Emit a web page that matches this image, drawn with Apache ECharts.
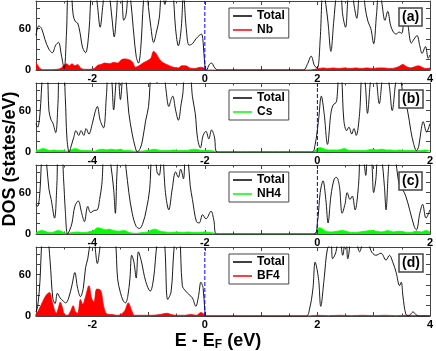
<!DOCTYPE html>
<html><head><meta charset="utf-8">
<script src="https://cdn.jsdelivr.net/npm/echarts@6/dist/echarts.min.js"></script>
<style>html,body{margin:0;padding:0;background:#fff}#c{width:436px;height:351px}</style>
</head><body><div id="c"></div>
<script>
// ---------- DATA ----------
const panelTags = ['(a)', '(b)', '(c)', '(d)'];
const partialNames = ['Nb', 'Cs', 'NH4', 'BF4'];
const xRanges = [[-3, 4], [-5, 2], [-5, 2], [-3, 4]];
const yLabelValues = [0, 60];
const fermiLine = [[0, 0], [0, 100]];

const totalA = [[-3.00,50],[-2.95,64],[-2.90,60],[-2.84,44],[-2.77,30],[-2.71,25],[-2.65,36],[-2.60,40],[-2.55,22],[-2.50,2],[-2.46,50],[-2.42,125],[-2.38,120],[-2.34,80],[-2.30,70],[-2.26,68],[-2.22,55],[-2.17,32],[-2.12,25],[-2.06,55],[-2.01,120],[-1.96,125],[-1.91,95],[-1.86,62],[-1.81,95],[-1.76,125],[-1.70,110],[-1.65,75],[-1.61,48],[-1.57,80],[-1.53,125],[-1.48,110],[-1.44,72],[-1.40,80],[-1.35,120],[-1.31,95],[-1.26,50],[-1.22,20],[-1.18,10],[-1.14,30],[-1.09,100],[-1.05,125],[-1.00,90],[-0.96,63],[-0.91,40],[-0.86,55],[-0.81,75],[-0.76,125],[-0.71,95],[-0.67,110],[-0.62,125],[-0.57,115],[-0.52,60],[-0.47,35],[-0.42,60],[-0.38,110],[-0.33,60],[-0.28,36],[-0.22,38],[-0.16,45],[-0.10,50],[-0.06,52],[-0.03,40],[0.00,7],[0.03,0],[0.08,8],[0.12,10],[0.17,4],[0.23,0],[1.75,0],[1.82,8],[1.89,20],[1.95,6],[2.00,3],[2.05,45],[2.10,120],[2.15,95],[2.19,68],[2.24,27],[2.29,70],[2.34,110],[2.40,125],[2.45,80],[2.50,62],[2.55,110],[2.60,125],[2.65,95],[2.70,75],[2.75,115],[2.80,125],[2.85,90],[2.90,70],[2.95,60],[3.00,38],[3.05,80],[3.10,125],[3.15,95],[3.20,72],[3.25,85],[3.30,65],[3.35,55],[3.40,52],[3.45,55],[3.50,53],[3.55,85],[3.60,70],[3.67,39],[3.72,45],[3.77,50],[3.82,35],[3.86,24],[3.92,34],[3.97,17],[4.00,22]];
const partialA = [[-3.00,11],[-2.97,7],[-2.93,2],[-2.88,0.5],[-2.75,0.5],[-2.62,1],[-2.55,3],[-2.50,7],[-2.45,9],[-2.41,6],[-2.36,9],[-2.31,6],[-2.26,8],[-2.21,3],[-2.14,1],[-2.05,1],[-1.97,2],[-1.90,7],[-1.84,8],[-1.78,10],[-1.70,9],[-1.62,11],[-1.55,10],[-1.48,15],[-1.41,16],[-1.35,15],[-1.29,12],[-1.23,4],[-1.17,6],[-1.10,10],[-1.03,13],[-0.96,17],[-0.91,27],[-0.86,23],[-0.80,15],[-0.73,10],[-0.65,7],[-0.56,4],[-0.47,3],[-0.41,6],[-0.34,6],[-0.27,3],[-0.18,2],[-0.08,4],[-0.02,3],[0.02,0],[1.85,0],[1.95,1],[2.03,2],[2.10,3],[2.18,2],[2.28,3],[2.38,2],[2.48,3],[2.58,2],[2.68,3],[2.78,2],[2.88,3],[2.98,2],[3.08,3],[3.18,3],[3.28,2],[3.38,3],[3.45,5],[3.52,8],[3.58,5],[3.66,3],[3.74,5],[3.80,6],[3.86,4],[3.93,2],[4.00,3]];

const totalB = [[-5.00,41],[-4.97,36],[-4.93,55],[-4.88,115],[-4.84,125],[-4.80,118],[-4.77,60],[-4.73,46],[-4.70,42],[-4.65,28],[-4.61,70],[-4.58,125],[-4.52,125],[-4.48,80],[-4.45,20],[-4.41,0],[-4.37,10],[-4.33,21],[-4.29,31],[-4.24,24],[-4.20,31],[-4.15,24],[-4.11,34],[-4.06,26],[-4.00,41],[-3.95,58],[-3.91,66],[-3.86,46],[-3.80,35],[-3.75,80],[-3.71,125],[-3.66,110],[-3.62,61],[-3.58,100],[-3.55,125],[-3.50,76],[-3.46,110],[-3.43,125],[-3.39,95],[-3.35,56],[-3.29,26],[-3.24,8],[-3.20,0],[-3.15,5],[-3.11,16],[-3.05,46],[-3.00,66],[-2.95,120],[-2.90,125],[-2.85,100],[-2.80,110],[-2.74,125],[-2.69,90],[-2.64,66],[-2.60,76],[-2.57,81],[-2.52,61],[-2.47,46],[-2.42,70],[-2.39,85],[-2.35,125],[-2.28,125],[-2.22,80],[-2.17,56],[-2.13,20],[-2.08,6],[-2.03,24],[-1.98,30],[-1.93,19],[-1.88,32],[-1.83,22],[-1.78,0],[-0.10,0],[-0.04,11],[0.02,46],[0.07,81],[0.12,56],[0.18,11],[0.24,56],[0.28,68],[0.34,73],[0.39,125],[0.43,110],[0.47,46],[0.52,31],[0.56,36],[0.61,26],[0.65,34],[0.69,24],[0.75,56],[0.80,125],[0.85,100],[0.89,56],[0.94,100],[0.98,125],[1.04,110],[1.10,70],[1.16,110],[1.22,125],[1.28,95],[1.33,60],[1.39,100],[1.45,125],[1.50,95],[1.54,76],[1.60,61],[1.66,31],[1.71,12],[1.76,2],[1.80,8],[1.84,30],[1.88,44],[1.94,29],[2.00,41]];
const partialB = [[-5.00,3],[-4.95,3],[-4.88,5],[-4.82,4],[-4.75,2],[-4.68,3],[-4.60,2],[-4.52,2],[-4.45,1],[-4.38,3],[-4.30,5],[-4.23,3],[-4.15,2],[-4.05,2],[-3.97,1],[-3.90,3],[-3.82,4],[-3.74,3],[-3.66,4],[-3.58,3],[-3.50,4],[-3.42,2],[-3.34,2],[-3.25,1],[-3.15,1],[-3.05,2],[-2.97,3],[-2.90,4],[-2.83,3],[-2.75,2],[-2.65,2],[-2.55,3],[-2.47,2],[-2.37,2],[-2.27,3],[-2.18,4],[-2.10,3],[-2.00,2],[-1.90,2],[-1.82,1],[-1.76,0],[-0.10,0],[-0.04,2],[0.02,6],[0.07,6],[0.13,4],[0.20,3],[0.28,3],[0.36,3],[0.43,4],[0.48,5],[0.54,3],[0.62,2],[0.72,2],[0.82,2],[0.90,3],[0.98,4],[1.06,3],[1.14,4],[1.22,3],[1.30,3],[1.38,2],[1.46,3],[1.56,2],[1.66,2],[1.76,2],[1.84,2],[1.92,3],[2.00,2]];

const totalC = [[-5.00,43],[-4.97,40],[-4.93,62],[-4.89,120],[-4.85,125],[-4.81,100],[-4.77,65],[-4.73,50],[-4.67,23],[-4.63,70],[-4.60,125],[-4.55,125],[-4.51,80],[-4.48,35],[-4.44,0],[-4.40,6],[-4.36,16],[-4.31,40],[-4.25,48],[-4.19,31],[-4.14,18],[-4.08,40],[-4.03,31],[-3.97,34],[-3.91,35],[-3.87,50],[-3.83,72],[-3.78,125],[-3.72,125],[-3.67,100],[-3.62,65],[-3.59,30],[-3.56,90],[-3.52,125],[-3.45,125],[-3.40,95],[-3.35,60],[-3.29,30],[-3.22,11],[-3.16,8],[-3.10,16],[-3.04,35],[-2.98,65],[-2.94,120],[-2.89,125],[-2.85,90],[-2.81,85],[-2.76,125],[-2.70,60],[-2.64,35],[-2.58,65],[-2.52,90],[-2.47,82],[-2.43,94],[-2.38,80],[-2.34,125],[-2.30,110],[-2.26,70],[-2.22,50],[-2.15,18],[-2.10,16],[-2.04,28],[-1.98,22],[-1.89,33],[-1.84,20],[-1.79,0],[-0.06,0],[0.00,16],[0.05,60],[0.10,77],[0.15,50],[0.19,16],[0.24,55],[0.30,80],[0.34,82],[0.39,70],[0.44,30],[0.49,43],[0.53,60],[0.58,50],[0.62,55],[0.67,35],[0.73,70],[0.77,125],[0.82,110],[0.86,85],[0.90,125],[0.96,110],[1.00,60],[1.04,80],[1.08,125],[1.14,110],[1.19,70],[1.22,35],[1.26,90],[1.30,125],[1.36,125],[1.41,95],[1.46,70],[1.51,65],[1.57,55],[1.64,35],[1.72,11],[1.76,6],[1.82,30],[1.87,43],[1.93,23],[2.00,35]];
const partialC = [[-5.00,2],[-4.95,4],[-4.90,5],[-4.84,4],[-4.76,2],[-4.68,3],[-4.61,5],[-4.55,4],[-4.46,1],[-4.36,2],[-4.27,3],[-4.17,2],[-4.07,3],[-3.98,5],[-3.90,9],[-3.84,8],[-3.77,6],[-3.70,7],[-3.62,5],[-3.52,4],[-3.44,5],[-3.34,2],[-3.22,1],[-3.12,2],[-3.02,3],[-2.94,6],[-2.88,7],[-2.80,4],[-2.70,3],[-2.60,2],[-2.50,3],[-2.40,2],[-2.30,3],[-2.20,2],[-2.10,2],[-2.00,3],[-1.90,2],[-1.82,1],[-1.77,0],[-0.08,0],[-0.02,3],[0.03,9],[0.08,8],[0.15,4],[0.25,3],[0.35,4],[0.45,5],[0.55,3],[0.65,2],[0.75,3],[0.85,4],[0.95,5],[1.05,4],[1.15,3],[1.25,5],[1.35,3],[1.45,4],[1.55,3],[1.65,2],[1.75,4],[1.85,3],[1.93,5],[2.00,3]];

const totalD = [[-3.00,6],[-2.97,14],[-2.93,50],[-2.89,115],[-2.85,125],[-2.80,120],[-2.75,80],[-2.70,25],[-2.66,18],[-2.62,33],[-2.57,26],[-2.52,22],[-2.47,19],[-2.42,26],[-2.36,45],[-2.31,63],[-2.26,40],[-2.21,28],[-2.16,40],[-2.12,70],[-2.08,83],[-2.03,110],[-1.98,125],[-1.94,92],[-1.91,76],[-1.87,95],[-1.83,120],[-1.75,125],[-1.65,125],[-1.59,110],[-1.55,54],[-1.50,34],[-1.45,22],[-1.41,19],[-1.37,28],[-1.33,55],[-1.30,88],[-1.26,78],[-1.22,55],[-1.18,93],[-1.13,80],[-1.05,50],[-0.97,36],[-0.91,55],[-0.85,105],[-0.79,125],[-0.72,110],[-0.66,24],[-0.60,35],[-0.55,95],[-0.50,125],[-0.45,120],[-0.40,44],[-0.34,36],[-0.28,31],[-0.22,26],[-0.16,14],[-0.11,30],[-0.07,49],[-0.03,40],[0.00,8],[0.03,0],[1.80,0],[1.86,10],[1.92,39],[1.96,78],[2.02,54],[2.06,14],[2.12,54],[2.18,98],[2.24,103],[2.27,83],[2.33,93],[2.39,125],[2.45,88],[2.51,125],[2.54,83],[2.63,125],[2.69,110],[2.75,93],[2.81,110],[2.86,125],[2.95,95],[3.04,88],[3.13,91],[3.22,81],[3.28,88],[3.34,78],[3.40,63],[3.46,44],[3.49,49],[3.52,29],[3.57,3],[3.62,0],[3.66,3],[3.70,6],[3.75,2],[3.80,0],[4.00,0]];
const partialD = [[-3.01,1],[-2.95,9],[-2.88,21],[-2.82,30],[-2.76,34],[-2.71,20],[-2.68,11],[-2.64,4],[-2.60,12],[-2.57,20],[-2.53,12],[-2.50,3],[-2.44,1],[-2.38,8],[-2.34,15],[-2.30,6],[-2.26,4],[-2.21,24],[-2.17,17],[-2.12,28],[-2.06,44],[-2.01,25],[-1.97,20],[-1.92,39],[-1.85,37],[-1.80,15],[-1.74,3],[-1.65,2],[-1.55,1],[-1.48,3],[-1.42,8],[-1.36,19],[-1.30,8],[-1.25,1],[-1.10,1],[-0.95,1],[-0.80,2],[-0.67,4],[-0.60,2],[-0.50,1],[-0.35,1],[-0.25,2],[-0.15,1],[-0.07,5],[-0.02,3],[0.02,0],[1.80,0],[1.90,0.5],[2.00,1],[2.20,0.5],[2.40,1],[2.60,0.5],[2.80,1],[3.00,0.5],[3.20,1],[3.40,0.5],[3.60,1],[3.80,0.5],[4.00,0.5]];

const totals = [totalA, totalB, totalC, totalD];
const partials = [partialA, partialB, partialC, partialD];
const partialColors = ['#ff0000', '#00ff00', '#00ff00', '#ff0000'];

// ---------- LAYOUT ----------
const FONT = 'Liberation Sans, Arial, Helvetica, sans-serif';
const tops = [1, 83, 165, 247];
const gridH = 69;
const axisCol = '#444';
const blue = '#0000ff';

const grids = [], xAxes = [], yAxes = [], series = [], legends = [], titles = [];
for (let i = 0; i < 4; i++) {
  grids.push({left: 36, right: 5, top: tops[i], height: gridH});
  const [mn, mx] = xRanges[i];
  const baseX = {
    type: 'value', gridIndex: i, min: mn, max: mx, interval: 1,
    axisLine: {show: true, onZero: false, lineStyle: {color: axisCol, width: 1}},
    axisTick: {show: true, inside: true, length: 4, lineStyle: {color: axisCol}},
    minorTick: {show: true, splitNumber: 2, length: 2.5, lineStyle: {color: axisCol}},
    splitLine: {show: false}, minorSplitLine: {show: false}
  };
  xAxes.push(Object.assign({}, baseX, {position: 'bottom',
    axisLabel: {show: true, margin: 3, fontSize: 11, fontWeight: 'bold', color: '#000', fontFamily: FONT,
      formatter: v => (Math.round(v) % 2 === 0 ? String(Math.round(v)) : '')}}));
  xAxes.push(Object.assign({}, baseX, {position: 'top', axisLabel: {show: false}}));
  const baseY = {
    type: 'value', gridIndex: i, min: 0, max: 100, interval: 15,
    axisLine: {show: true, onZero: false, lineStyle: {color: axisCol, width: 1}},
    axisTick: {show: true, inside: true, length: 4, lineStyle: {color: axisCol}},
    splitLine: {show: false}
  };
  yAxes.push(Object.assign({}, baseY, {position: 'left',
    axisLabel: {show: true, margin: 5, fontSize: 11, fontWeight: 'bold', color: '#000', fontFamily: FONT,
      formatter: v => (yLabelValues.indexOf(v) >= 0 ? String(v) : '')}}));
  yAxes.push(Object.assign({}, baseY, {position: 'right', axisLabel: {show: false}}));

  series.push({
    type: 'line', name: partialNames[i], xAxisIndex: 2 * i, yAxisIndex: 2 * i,
    data: partials[i], smooth: 0.35, symbol: 'none', z: 2,
    lineStyle: {color: partialColors[i], width: 0.8},
    itemStyle: {color: partialColors[i]},
    areaStyle: {color: partialColors[i], opacity: 1}
  });
  series.push({
    type: 'line', name: 'Total', xAxisIndex: 2 * i, yAxisIndex: 2 * i,
    data: totals[i], smooth: 0.35, symbol: 'none', z: 3,
    lineStyle: {color: '#000', width: 0.9},
    itemStyle: {color: '#000'}
  });
  series.push({
    type: 'line', name: 'EF' + i, xAxisIndex: 2 * i, yAxisIndex: 2 * i,
    data: fermiLine, symbol: 'none', z: 4, silent: true,
    itemStyle: {color: blue},
    lineStyle: {color: blue, type: [4, 2], width: 1}
  });
  legends.push({
    data: ['Total', partialNames[i]], left: 229, top: tops[i] + 7, orient: 'vertical',
    icon: 'rect', itemWidth: 19, itemHeight: 1.5, itemGap: 2, padding: [2, 4, 2, 4],
    borderColor: axisCol, borderWidth: 1, backgroundColor: '#fff', selectedMode: false,
    textStyle: {fontSize: 12, fontWeight: 'bold', color: '#000', fontFamily: FONT}
  });
  titles.push({
    text: panelTags[i], left: 399, top: tops[i] + 7, padding: [1, 3, 1, 3],
    borderColor: axisCol, borderWidth: 1.5, backgroundColor: '#fff',
    textStyle: {fontSize: 14, fontWeight: 'bold', color: '#000', fontFamily: FONT, lineHeight: 16}
  });
}

const chart = echarts.init(document.getElementById('c'), null, {renderer: 'canvas'});
chart.setOption({
  animation: false,
  backgroundColor: '#fff',
  textStyle: {fontFamily: FONT},
  grid: grids, xAxis: xAxes, yAxis: yAxes, series: series,
  legend: legends, title: titles,
  graphic: [
    {type: 'text', x: 10, y: 159, rotation: Math.PI / 2,
      style: {text: 'DOS (states/eV)', font: 'bold 18px ' + FONT, fill: '#000', textAlign: 'center', textVerticalAlign: 'middle'}},
    {type: 'text', x: 218, y: 341,
      style: {text: '{n|E - E}{s|F}{n| (eV)}', textAlign: 'center', textVerticalAlign: 'middle', fill: '#000',
        rich: {n: {fontSize: 18, fontWeight: 'bold', fontFamily: FONT, fill: '#000'},
               s: {fontSize: 12, fontWeight: 'bold', fontFamily: FONT, fill: '#000', padding: [8, 0, 0, 0]}}}}
  ]
});
</script></body></html>
